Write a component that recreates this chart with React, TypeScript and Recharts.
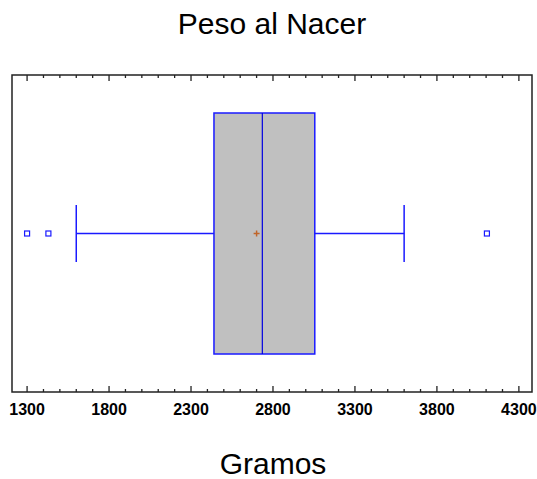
import React from 'react';
import { ScatterChart, Scatter, XAxis, YAxis, ReferenceArea, ReferenceLine } from 'recharts';

const chartTitle = 'Peso al Nacer';
const axisTitle = 'Gramos';

// resumen del diagrama de caja (gramos)
const quartiles = [2440, 2735, 3055]; // Q1, mediana, Q3
const whiskerEnds = [1600, 3600];
const meanWeight = [2700];
const outlierWeights = [1300, 1430, 4105];

const majorTicks = [1300, 1800, 2300, 2800, 3300, 3800, 4300];
const allTicks = [
  1300, 1400, 1500, 1600, 1700, 1800, 1900, 2000, 2100, 2200, 2300, 2400, 2500, 2600, 2700, 2800,
  2900, 3000, 3100, 3200, 3300, 3400, 3500, 3600, 3700, 3800, 3900, 4000, 4100, 4200, 4300,
];

const X_DOMAIN = [1208, 4380];
const ROW = 0.5;
const BOX_LOW = 0.12;
const BOX_HIGH = 0.88;
const CAP_LOW = 0.41;
const CAP_HIGH = 0.59;

const MARGIN = { top: 75, right: 5, bottom: 57, left: 12 };
const CHART_W = 537;
const CHART_H = 479;
const X_AXIS_H = 30;
const PLOT_H = CHART_H - MARGIN.top - MARGIN.bottom - X_AXIS_H;

const BLUE = '#1a1aff';
const FRAME = '#222';
const FONT = '"Liberation Sans", Arial, sans-serif';

const outlierData = outlierWeights.map((w) => ({ x: w, y: ROW }));
const meanData = meanWeight.map((w) => ({ x: w, y: ROW }));

// marcas hacia dentro en el borde inferior y superior, etiqueta solo en las principales
const FrameTick = (props: any) => {
  const { x, y, payload } = props;
  const major = majorTicks.includes(payload.value);
  const len = major ? 6 : 3;
  const top = y - PLOT_H;
  return (
    <g>
      <path d={`M${x},${y}V${y - len}`} stroke={FRAME} strokeWidth={1.3} fill="none" />
      <path d={`M${x},${top}V${top + len}`} stroke={FRAME} strokeWidth={1.3} fill="none" />
      {major && (
        <text x={x} y={y + 23} textAnchor="middle" fontSize={16} fontWeight="bold" fontFamily={FONT} fill="#000">
          {payload.value}
        </text>
      )}
    </g>
  );
};

const OutlierShape = (props: any) => (
  <rect x={props.cx - 2.5} y={props.cy - 2.5} width={5} height={5} fill="#fff" stroke={BLUE} strokeWidth={1.2} />
);

const MeanShape = (props: any) => (
  <g stroke="#c0652a" strokeWidth={1.5}>
    <line x1={props.cx - 3} x2={props.cx + 3} y1={props.cy} y2={props.cy} />
    <line x1={props.cx} x2={props.cx} y1={props.cy - 3} y2={props.cy + 3} />
  </g>
);

export default function App() {
  const [q1, med, q3] = quartiles;
  const [wLow, wHigh] = whiskerEnds;
  return (
    <div style={{ position: 'absolute', left: 0, top: 0, width: CHART_W, height: CHART_H, background: '#fff' }}>
      <ScatterChart width={CHART_W} height={CHART_H} margin={MARGIN}>
        <ReferenceArea
          x1={X_DOMAIN[0]}
          x2={X_DOMAIN[1]}
          y1={0}
          y2={1}
          fill="transparent"
          fillOpacity={0}
          stroke={FRAME}
          strokeWidth={1.5}
        />
        <XAxis
          type="number"
          dataKey="x"
          domain={X_DOMAIN}
          ticks={allTicks}
          interval={0}
          height={X_AXIS_H}
          tickSize={0}
          tickMargin={0}
          tickLine={false}
          tick={<FrameTick />}
          axisLine={false}
          allowDataOverflow
        />
        <YAxis type="number" dataKey="y" domain={[0, 1]} hide />
        <ReferenceLine segment={[{ x: wLow, y: ROW }, { x: q1, y: ROW }]} stroke={BLUE} strokeWidth={1.5} />
        <ReferenceLine segment={[{ x: q3, y: ROW }, { x: wHigh, y: ROW }]} stroke={BLUE} strokeWidth={1.5} />
        <ReferenceLine segment={[{ x: wLow, y: CAP_LOW }, { x: wLow, y: CAP_HIGH }]} stroke={BLUE} strokeWidth={1.5} />
        <ReferenceLine segment={[{ x: wHigh, y: CAP_LOW }, { x: wHigh, y: CAP_HIGH }]} stroke={BLUE} strokeWidth={1.5} />
        <ReferenceArea x1={q1} x2={q3} y1={BOX_LOW} y2={BOX_HIGH} fill="#c0c0c0" fillOpacity={1} stroke={BLUE} strokeWidth={1.5} />
        <ReferenceLine segment={[{ x: med, y: BOX_LOW }, { x: med, y: BOX_HIGH }]} stroke="#0000e0" strokeWidth={1.2} />
        <Scatter data={outlierData} shape={<OutlierShape />} isAnimationActive={false} />
        <Scatter data={meanData} shape={<MeanShape />} isAnimationActive={false} />
      </ScatterChart>
      <svg width={CHART_W} height={CHART_H} style={{ position: 'absolute', left: 0, top: 0, pointerEvents: 'none' }}>
        <text x={272} y={34} textAnchor="middle" fontSize={30} fontFamily={FONT} fill="#000">
          {chartTitle}
        </text>
        <text x={273} y={474} textAnchor="middle" fontSize={30} fontFamily={FONT} fill="#000">
          {axisTitle}
        </text>
      </svg>
    </div>
  );
}
